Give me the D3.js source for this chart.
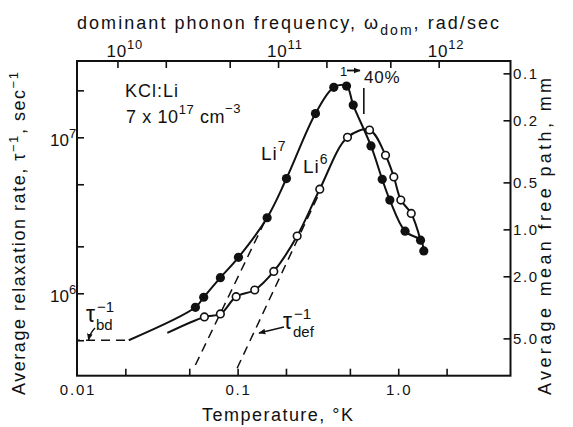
<!DOCTYPE html>
<html>
<head>
<meta charset="utf-8">
<script src="https://cdn.jsdelivr.net/npm/d3@7"></script>
<style>
  body { margin: 0; background: #fff; }
  text { font-family: "Liberation Sans", Arial, sans-serif; fill: #111; }
</style>
</head>
<body>
<svg id="chart" width="573" height="427"></svg>
<script>
// values: temperature in K, relaxation rate in 1/sec
const li7Points = [
  [0.0546, 8.13e5], [0.0615, 9.43e5], [0.0781, 1.26e6], [0.1012, 1.70e6],
  [0.1527, 3.05e6], [0.2014, 5.44e6], [0.3053, 1.42e7], [0.397, 2.09e7],
  [0.4764, 2.13e7], [0.5244, 1.61e7], [0.6767, 8.80e6], [0.795, 5.38e6],
  [0.8866, 3.96e6], [1.103, 2.50e6], [1.377, 2.19e6], [1.443, 1.87e6]
];
const li6Points = [
  [0.0621, 7.05e5], [0.0781, 7.37e5], [0.0979, 9.51e5], [0.1278, 1.05e6],
  [0.1679, 1.38e6], [0.2348, 2.33e6], [0.3247, 4.65e6], [0.4831, 1.00e7],
  [0.6627, 1.114e7], [0.8334, 7.67e6], [0.939, 5.57e6], [1.038, 3.96e6],
  [1.205, 3.25e6]
];
const li7CurveStart = [0.021, 5.0e5];
const li6CurveStart = [0.0365, 5.57e5];
const li6CurveEnd = [1.377, 2.19e6];
const tauBd = 5.0e5;
const tauBdSpan = [0.01, 0.021];
const li7Def = [[0.0546, 3.47e5], [0.1512, 3.04e6]];
const li6Def = [[0.0993, 3.31e5], [0.3142, 4.14e6]];
const peakMark = [0.6106, 2.07e7, 1.41e7];

const tempTicks = [0.02, 0.05, 0.1, 0.2, 0.5, 1, 2];
const tempLabels = [[0.01, "0.01"], [0.1, "0.1"], [1, "1.0"]];
const rateTicks = [5e5, 1e6, 2e6, 5e6, 1e7, 2e7];
const rateLabels = [[1e6, "6"], [1e7, "7"]];
const freqTicks = [1e10, 2e10, 5e10, 1e11, 2e11, 5e11, 1e12];
const freqLabels = [[1e10, "10"], [1e11, "11"], [1e12, "12"]];
const mfpTicks = [0.1, 0.2, 0.5, 1, 2, 5];
const mfpLabels = ["0.1", "0.2", "0.5", "1.0", "2.0", "5.0"];
const omegaPerKelvin = 5.6e11;   // rad/sec per K
const mfpTimesRate = 2.57e6;     // mm/sec

const svg = d3.select('#chart');
const x = d3.scaleLog().domain([0.01, 5]).range([77, 510.5]);
const y = d3.scaleLog().domain([2.963e5, 3.084e7]).range([375.7, 61]);
const xTop = d3.scaleLog().domain(x.domain().map(t => t * omegaPerKelvin)).range(x.range());
const yRight = d3.scaleLog().domain(y.domain().map(r => mfpTimesRate / r)).range(y.range());

function styleAxis(g) {
  g.select('.domain').remove();
  g.selectAll('.tick line').attr('stroke', '#111').attr('stroke-width', 1.6);
}

svg.append('g').attr('transform', `translate(0,${y.range()[0]})`)
  .call(d3.axisBottom(x).tickValues(tempTicks).tickSize(-7).tickFormat('')).call(styleAxis);
svg.append('g').attr('transform', `translate(0,${y.range()[1]})`)
  .call(d3.axisTop(xTop).tickValues(freqTicks).tickSize(-7).tickFormat('')).call(styleAxis);
svg.append('g').attr('transform', `translate(${x.range()[0]},0)`)
  .call(d3.axisLeft(y).tickValues(rateTicks).tickSize(-7).tickFormat('')).call(styleAxis);
svg.append('g').attr('transform', `translate(${x.range()[1]},0)`)
  .call(d3.axisRight(yRight).tickValues(mfpTicks).tickSize(-7).tickFormat('')).call(styleAxis);

svg.append('rect')
  .attr('x', x.range()[0]).attr('y', y.range()[1])
  .attr('width', x.range()[1] - x.range()[0]).attr('height', y.range()[0] - y.range()[1])
  .attr('fill', 'none').attr('stroke', '#111').attr('stroke-width', 2);

// tick labels
svg.selectAll('.tlab').data(tempLabels).enter().append('text')
  .attr('x', d => x(d[0]) + 1).attr('y', 395).attr('text-anchor', 'middle')
  .attr('font-size', 15).attr('letter-spacing', 1.8).text(d => d[1]);

svg.selectAll('.rlab').data(rateLabels).enter().append('text')
  .attr('x', 50).attr('y', d => y(d[0]) + 9).attr('font-size', 17)
  .each(function (d) {
    d3.select(this).append('tspan').text('10');
    d3.select(this).append('tspan').attr('font-size', 13).attr('dy', -8).text(d[1]);
  });

svg.selectAll('.flab').data(freqLabels).enter().append('text')
  .attr('x', d => xTop(d[0]) - 11).attr('y', 57).attr('font-size', 17)
  .attr('letter-spacing', 0.8)
  .each(function (d) {
    d3.select(this).append('tspan').text('10');
    d3.select(this).append('tspan').attr('font-size', 13).attr('dy', -8).text(d[1]);
  });

svg.selectAll('.mlab').data(mfpTicks).enter().append('text')
  .attr('x', 513).attr('y', d => yRight(d) + 5.5).attr('font-size', 15)
  .attr('letter-spacing', 1.6).text((d, i) => mfpLabels[i]);

// axis titles, spaced out to the width of the original lettering
function fit(sel, target) {
  const node = sel.node();
  const n = node.textContent.length;
  const len = node.getComputedTextLength();
  sel.attr('letter-spacing', (target - len) / (n - 1));
}

const topTitle = svg.append('text').attr('x', 77).attr('y', 28.5).attr('font-size', 18);
topTitle.append('tspan').text('dominant phonon frequency, ω');
topTitle.append('tspan').attr('font-size', 14).attr('dy', 6).text('dom');
topTitle.append('tspan').attr('dy', -6).text(', rad/sec');
fit(topTitle, 422);

const bottomTitle = svg.append('text').attr('x', 202).attr('y', 421).attr('font-size', 18)
  .text('Temperature, °K');
fit(bottomTitle, 151);

const leftTitle = svg.append('text').attr('transform', 'translate(25,395) rotate(-90)')
  .attr('font-size', 18);
leftTitle.append('tspan').text('Average relaxation rate, τ');
leftTitle.append('tspan').attr('font-size', 13).attr('dy', -7).text('−1');
leftTitle.append('tspan').attr('dy', 7).text(', sec');
leftTitle.append('tspan').attr('font-size', 13).attr('dy', -7).text('−1');
fit(leftTitle, 323);

const rightTitle = svg.append('text').attr('transform', 'translate(551,395) rotate(-90)')
  .attr('font-size', 18).text('Average mean free path, mm');
fit(rightTitle, 317);

// dashed guide lines
const line = d3.line().x(d => x(d[0])).y(d => y(d[1]));
const dashed = g => g.attr('fill', 'none').attr('stroke', '#111').attr('stroke-width', 1.5)
  .attr('stroke-dasharray', '9,6');
svg.append('path').attr('d', line(tauBdSpan.map(t => [t, tauBd]))).call(dashed)
  .attr('stroke-dashoffset', -9);
svg.append('path').attr('d', line(li7Def)).call(dashed);
svg.append('path').attr('d', line(li6Def)).call(dashed);

// fitted curves
const curve = d3.line().x(d => x(d[0])).y(d => y(d[1])).curve(d3.curveCatmullRom.alpha(0.5));
svg.append('path').attr('d', curve([li7CurveStart, ...li7Points]))
  .attr('fill', 'none').attr('stroke', '#111').attr('stroke-width', 2);
svg.append('path').attr('d', curve([li6CurveStart, ...li6Points, li6CurveEnd]))
  .attr('fill', 'none').attr('stroke', '#111').attr('stroke-width', 2);

// points
svg.selectAll('.p6').data(li6Points).enter().append('circle')
  .attr('cx', d => x(d[0])).attr('cy', d => y(d[1])).attr('r', 3.8)
  .attr('fill', '#fff').attr('stroke', '#111').attr('stroke-width', 1.6);
svg.selectAll('.p7').data(li7Points).enter().append('circle')
  .attr('cx', d => x(d[0])).attr('cy', d => y(d[1])).attr('r', 4.6)
  .attr('fill', '#111');

// peak marker and annotations
svg.append('line')
  .attr('x1', x(peakMark[0])).attr('x2', x(peakMark[0]))
  .attr('y1', y(peakMark[1])).attr('y2', y(peakMark[2]))
  .attr('stroke', '#111').attr('stroke-width', 1.6);

svg.append('defs').append('marker').attr('id', 'head')
  .attr('viewBox', '0 0 10 10').attr('refX', 9).attr('refY', 5)
  .attr('markerWidth', 7).attr('markerHeight', 7).attr('orient', 'auto')
  .attr('markerUnits', 'userSpaceOnUse')
  .append('path').attr('d', 'M0,1 L10,5 L0,9 Z').attr('fill', '#111');

svg.append('text').attr('x', 340).attr('y', 76).attr('font-size', 13).text('1');
svg.append('line').attr('x1', 347).attr('y1', 70.5).attr('x2', 360).attr('y2', 70.5)
  .attr('stroke', '#111').attr('stroke-width', 1.8).attr('marker-end', 'url(#head)');
svg.append('text').attr('x', 364).attr('y', 83).attr('font-size', 17)
  .attr('letter-spacing', 0.8).text('40%');

svg.append('text').attr('x', 125).attr('y', 97).attr('font-size', 18)
  .attr('letter-spacing', 1).text('KCl:Li');
const conc = svg.append('text').attr('x', 126).attr('y', 123).attr('font-size', 18)
  .attr('letter-spacing', 0.6);
conc.append('tspan').text('7 x 10');
conc.append('tspan').attr('font-size', 13).attr('dy', -9).text('17');
conc.append('tspan').attr('dy', 9).text(' cm');
conc.append('tspan').attr('font-size', 13).attr('dy', -10).text('−3');

const l7 = svg.append('text').attr('x', 261).attr('y', 160).attr('font-size', 19)
  .attr('letter-spacing', 1);
l7.append('tspan').text('Li');
l7.append('tspan').attr('font-size', 14).attr('dy', -9).text('7');
const l6 = svg.append('text').attr('x', 303).attr('y', 173).attr('font-size', 19)
  .attr('letter-spacing', 1);
l6.append('tspan').text('Li');
l6.append('tspan').attr('font-size', 14).attr('dy', -9).text('6');

function tauLabel(xp, yp, sub) {
  svg.append('text').attr('x', xp).attr('y', yp).attr('font-size', 23).text('τ');
  svg.append('text').attr('x', xp + 11).attr('y', yp - 10).attr('font-size', 15).text('−1');
  svg.append('text').attr('x', xp + 10).attr('y', yp + 8).attr('font-size', 15).text(sub);
}
tauLabel(86, 322, 'bd');
tauLabel(283, 329, 'def');

svg.append('path').attr('d', 'M95,328 Q90,333 88.5,340')
  .attr('fill', 'none').attr('stroke', '#111').attr('stroke-width', 1.4).attr('marker-end', 'url(#head)');
svg.append('path').attr('d', 'M284,327 L259,333')
  .attr('fill', 'none').attr('stroke', '#111').attr('stroke-width', 1.4).attr('marker-end', 'url(#head)');
</script>
</body>
</html>
